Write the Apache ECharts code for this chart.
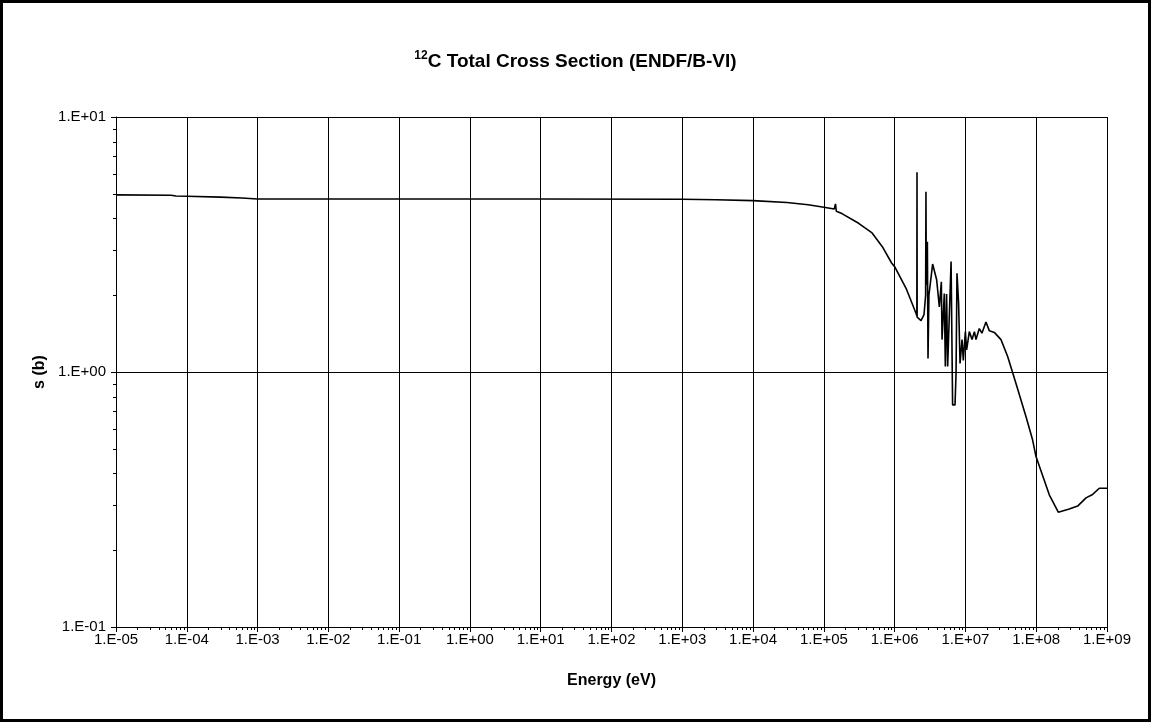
<!DOCTYPE html>
<html>
<head>
<meta charset="utf-8">
<script src="https://cdn.jsdelivr.net/npm/echarts@6/dist/echarts.min.js"></script>
<style>
html,body{margin:0;padding:0;background:#fff;}
#chart{width:1151px;height:722px;}
</style>
</head>
<body>
<div id="chart"></div>
<script>
// Energy (eV) and total cross section (b)
const energies = [
  1e-5, 6e-5, 7e-5, 1e-4, 3e-4, 6e-4, 1e-3, 1e-1, 1e1, 1e3, 3e3, 1e4, 3e4, 6e4, 1e5,
  1.4e5, 1.46e5, 1.5e5, 1.8e5, 3.1e5, 4.8e5, 6.7e5, 9.1e5, 1e6, 1.45e6, 1.8e6, 2.0e6, 2.06e6, 2.07e6,
  2.08e6, 2.36e6, 2.6e6, 2.74e6, 2.77e6, 2.8e6, 2.9e6, 2.96e6, 3.05e6, 3.44e6, 3.92e6,
  4.28e6, 4.57e6, 4.67e6, 5.03e6, 5.2e6, 5.42e6, 5.61e6, 6.27e6, 6.59e6, 7.13e6, 7.37e6,
  7.6e6, 8.01e6, 8.39e6, 8.96e6, 9.34e6, 9.98e6, 1.04e7, 1.135e7, 1.24e7, 1.34e7, 1.41e7,
  1.57e7, 1.71e7, 1.95e7, 2.18e7, 2.56e7, 3.18e7, 3.95e7, 5.19e7, 7.18e7, 8.9e7, 9.93e7,
  1.53e8, 2.05e8, 2.93e8, 3.85e8, 5.05e8, 6.26e8, 7.79e8, 1e9
];
const crossSections = [
  4.95, 4.93, 4.90, 4.89, 4.85, 4.81, 4.77, 4.77, 4.77, 4.76, 4.74, 4.70, 4.62, 4.53, 4.43,
  4.36, 4.56, 4.27, 4.18, 3.83, 3.51, 3.10, 2.67, 2.59, 2.13, 1.83, 1.70, 1.66, 6.07,
  1.64, 1.59, 1.68, 2.0, 5.09, 2.2, 3.24, 1.13, 2.0, 2.65, 2.30,
  1.80, 2.26, 1.34, 2.03, 1.05, 2.02, 1.05, 2.71, 0.743, 0.743, 0.99,
  2.44, 1.86, 1.08, 1.34, 1.11, 1.44, 1.22, 1.44, 1.34, 1.44, 1.34,
  1.48, 1.42, 1.57, 1.45, 1.43, 1.34, 1.15, 0.90, 0.668, 0.541, 0.466,
  0.33, 0.282, 0.29, 0.298, 0.321, 0.331, 0.35, 0.35
];
const xTickLabels = ['1.E-05','1.E-04','1.E-03','1.E-02','1.E-01','1.E+00','1.E+01','1.E+02','1.E+03','1.E+04','1.E+05','1.E+06','1.E+07','1.E+08','1.E+09'];
const yTickLabels = ['1.E-01','1.E+00','1.E+01'];
const xDecadeExps = [-5,-4,-3,-2,-1,0,1,2,3,4,5,6,7,8];
const yDecadeExps = [-1,0];
const minorMultipliers = [2,3,4,5,6,7,8,9];

const seriesData = energies.map((e, i) => [e, crossSections[i]]);
const xMinor = [];
xDecadeExps.forEach(k => minorMultipliers.forEach(m => xMinor.push([m * Math.pow(10, k), 0.1])));
const yMinor = [];
yDecadeExps.forEach(k => minorMultipliers.forEach(m => yMinor.push([1e-5, m * Math.pow(10, k)])));

const FONT = '"Liberation Sans", Arial, sans-serif';
function expOf(v){ return Math.round(Math.log10(v)); }

const chart = echarts.init(document.getElementById('chart'), null, {renderer:'canvas'});
chart.setOption({
  animation: false,
  backgroundColor: '#fff',
  title: {
    text: '{sup|12}{main|C Total Cross Section (ENDF/B-VI)}',
    left: 'center',
    top: 45,
    textStyle: {
      rich: {
        sup: {fontFamily: FONT, fontWeight: 'bold', fontSize: 12, color: '#000', verticalAlign: 'top', lineHeight: 24, padding:[0,0,8,0]},
        main: {fontFamily: FONT, fontWeight: 'bold', fontSize: 19, color: '#000', lineHeight: 24}
      }
    }
  },
  graphic: [{
    type: 'rect', silent: true,
    shape: {x: 1.5, y: 1.5, width: 1148, height: 719},
    style: {fill: 'none', stroke: '#000', lineWidth: 3}
  }],
  grid: {left: 116, right: 44, top: 117, bottom: 95},
  xAxis: {
    type: 'log', logBase: 10, min: 1e-5, max: 1e9, interval: 1,
    name: 'Energy (eV)', nameLocation: 'middle', nameGap: 46,
    nameTextStyle: {fontFamily: FONT, fontWeight: 'bold', fontSize: 16, color: '#000'},
    axisLine: {show: true, lineStyle: {color: '#000', width: 1}},
    axisTick: {show: true, inside: false, length: 5, lineStyle: {color: '#000'}},
    axisLabel: {fontFamily: FONT, fontSize: 15, color: '#000', margin: 5,
      formatter: v => xTickLabels[expOf(v) + 5]},
    splitLine: {show: true, lineStyle: {color: '#000', width: 1}},
    minorTick: {show: false}
  },
  yAxis: {
    type: 'log', logBase: 10, min: 0.1, max: 10, interval: 1,
    name: 's (b)', nameLocation: 'middle', nameGap: 68, nameRotate: 90,
    nameTextStyle: {fontFamily: FONT, fontWeight: 'bold', fontSize: 16, color: '#000'},
    axisLine: {show: true, lineStyle: {color: '#000', width: 1}},
    axisTick: {show: true, inside: false, length: 5, lineStyle: {color: '#000'}},
    axisLabel: {fontFamily: FONT, fontSize: 15, color: '#000', margin: 10,
      formatter: v => yTickLabels[expOf(v) + 1]},
    splitLine: {show: true, lineStyle: {color: '#000', width: 1}}
  },
  series: [
    {
      type: 'line', data: seriesData, showSymbol: false, symbol: 'none',
      lineStyle: {color: '#000', width: 1.6}, z: 5, silent: true
    },
    {
      type: 'custom', data: xMinor, silent: true, z: 4,
      renderItem: (params, api) => {
        const p = api.coord([api.value(0), api.value(1)]);
        const x = Math.round(p[0]) + 0.5;
        return {type: 'line', shape: {x1: x, y1: p[1], x2: x, y2: p[1] + 3},
          style: {stroke: '#000', lineWidth: 1}};
      }
    },
    {
      type: 'custom', data: yMinor, silent: true, z: 4,
      renderItem: (params, api) => {
        const p = api.coord([api.value(0), api.value(1)]);
        const y = Math.round(p[1]) + 0.5;
        return {type: 'line', shape: {x1: p[0] - 3, y1: y, x2: p[0], y2: y},
          style: {stroke: '#000', lineWidth: 1}};
      }
    }
  ]
});
</script>
</body>
</html>
